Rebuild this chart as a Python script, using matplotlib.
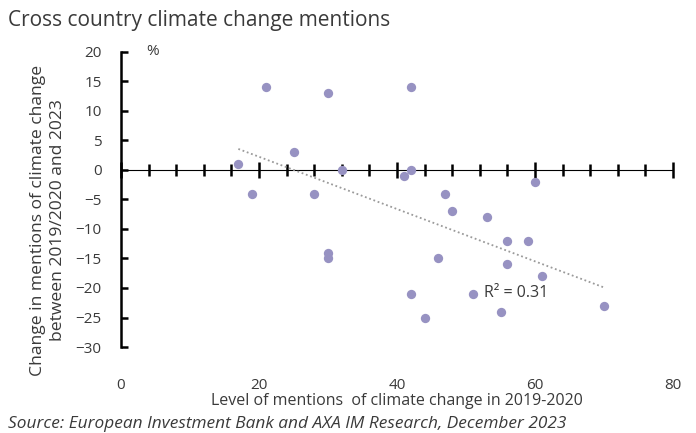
import numpy as np
import matplotlib.pyplot as plt

# levels of mentions 2019-2020 and change to 2023
level_2019_20 = [17, 19, 21, 25, 28, 30, 30, 30, 32, 41, 42, 42, 47, 48, 53, 60,
                 46, 56, 59, 56, 61, 42, 51, 44, 55, 70]
change_to_2023 = [1, -4, 14, 3, -4, 13, -14, -15, 0, -1, 0, 14, -4, -7, -8, -2,
                  -15, -12, -12, -16, -18, -21, -21, -25, -24, -23]
x_ticks = [0, 20, 40, 60, 80]
y_ticks = [20, 15, 10, 5, 0, -5, -10, -15, -20, -25, -30]

plt.rcParams['font.family'] = ['Open Sans', 'DejaVu Sans']
txt = '#3a3a3a'

fig = plt.figure(figsize=(6.96, 4.33), dpi=100)
ax = fig.add_axes([0.1739, 0.1986, 0.7931, 0.6814])

ax.scatter(level_2019_20, change_to_2023, s=45, color='#9792c2', zorder=3, linewidths=0)

# linear trend
x = np.array(level_2019_20, dtype=float)
y = np.array(change_to_2023, dtype=float)
b, a = np.polyfit(x, y, 1)
xs = np.array([x.min(), x.max()])
ax.plot(xs, a + b * xs, linestyle=(0, (1, 1.5)), color='#9a9a9a', lw=1.3, zorder=2)
ax.text(57.2, -20.8, 'R² = 0.31', fontsize=11.5, color=txt, ha='center', va='center')

ax.set_xlim(0, 80)
ax.set_ylim(-30, 20)

for s in ['top', 'right', 'bottom']:
    ax.spines[s].set_visible(False)
ax.spines['left'].set_linewidth(1.8)

ax.set_yticks(y_ticks)
ax.tick_params(axis='y', direction='in', length=5, width=1.8, labelsize=11,
               labelcolor=txt, pad=14)
ax.set_xticks(x_ticks)
ax.tick_params(axis='x', length=0, labelsize=11, labelcolor=txt, pad=22)

# horizontal axis line at y = 0 with crossing ticks
zero_ax = ax.secondary_xaxis(30 / 50)
zero_ax.spines['bottom'].set_linewidth(1.8)
zero_ax.set_xticks(x_ticks)
zero_ax.set_xticks(np.arange(0, 81, 4), minor=True)
zero_ax.tick_params(which='both', labelbottom=False, labeltop=False)
zero_ax.tick_params(which='major', direction='inout', length=12, width=1.8)
zero_ax.tick_params(which='minor', direction='inout', length=9, width=1.8)

ax.set_xlabel('Level of mentions  of climate change in 2019-2020', fontsize=11.5,
              color=txt, labelpad=0)
ax.set_ylabel('Change in mentions of climate change\nbetween 2019/2020 and 2023',
              fontsize=12.6, color=txt, linespacing=1.3)
ax.yaxis.set_label_coords(-0.1, 0.43)
ax.text(0.045, 1.0, '%', transform=ax.transAxes, fontsize=11, color=txt, va='center')

fig.text(0.012, 0.953, 'Cross country climate change mentions', fontsize=15,
         color=txt, va='center')
fig.text(0.012, 0.021, 'Source: European Investment Bank and AXA IM Research, December 2023',
         fontsize=12.4, color=txt, style='italic', va='center')

fig.savefig('out.png', dpi=100)
